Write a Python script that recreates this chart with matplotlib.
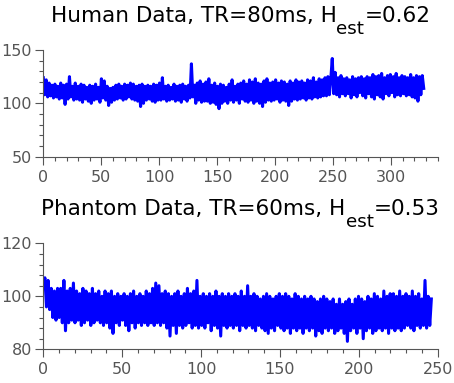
import numpy as np
import matplotlib
matplotlib.use("Agg")
import matplotlib.pyplot as plt
from matplotlib.ticker import MultipleLocator

plt.rcParams.update({'font.family': ['DejaVu Sans']})

# human BOLD series, ~8 samples per 10 s
human_dur = 328.0
human = [124, 108, 122, 106, 119, 107, 117, 105,
         118, 106, 116, 104, 119, 105, 117, 99,
         118, 104, 125, 106, 116, 103, 119, 104,
         116, 103, 118, 101, 117, 104, 115, 102,
         117, 100, 116, 103, 118, 104, 115, 101,
         123, 105, 121, 103, 116, 98, 114, 101,
         115, 103, 117, 104, 118, 105, 116, 103,
         118, 104, 117, 106, 119, 104, 118, 103,
         116, 102, 117, 97, 118, 100, 116, 103,
         117, 104, 116, 102, 118, 101, 117, 103,
         119, 103, 124, 104, 116, 102, 117, 103,
         115, 104, 118, 102, 116, 103, 117, 101,
         118, 104, 116, 102, 117, 105, 137, 106,
         117, 100, 119, 103, 121, 101, 118, 102,
         120, 102, 123, 100, 117, 101, 119, 99,
         116, 95, 118, 100, 117, 102, 115, 100,
         118, 103, 122, 101, 116, 103, 118, 100,
         119, 104, 121, 102, 118, 101, 122, 103,
         120, 100, 123, 102, 119, 100, 118, 97,
         121, 101, 123, 103, 119, 102, 120, 103,
         122, 104, 119, 101, 121, 103, 120, 102,
         118, 98, 121, 102, 119, 104, 122, 103,
         120, 104, 121, 105, 119, 103, 122, 105,
         121, 104, 124, 106, 120, 105, 123, 106,
         122, 107, 124, 107, 125, 108, 123, 142,
         109, 129, 108, 124, 106, 126, 109, 123,
         107, 124, 109, 122, 105, 125, 108, 123,
         106, 124, 110, 125, 107, 123, 105, 125,
         109, 124, 106, 127, 104, 125, 108, 126,
         106, 128, 104, 124, 109, 126, 107, 127,
         110, 125, 106, 128, 108, 124, 107, 126,
         109, 125, 107, 124, 108, 127, 106, 124,
         105, 126, 102, 125, 108, 126, 114]

# phantom series, ~10 samples per 10 s
phantom_dur = 246.0
phantom = [104, 107, 96, 106, 95, 103, 92, 102, 91, 103,
           92, 103, 90, 106, 87, 102, 90, 103, 91, 105,
           90, 102, 91, 101, 89, 103, 90, 102, 91, 101,
           89, 103, 90, 101, 91, 102, 90, 100, 89, 102,
           90, 101, 88, 102, 86, 100, 90, 101, 89, 100,
           91, 101, 89, 100, 87, 101, 90, 102, 88, 100,
           90, 101, 89, 100, 90, 102, 89, 101, 90, 103,
           89, 105, 90, 104, 89, 101, 90, 102, 88, 101,
           85, 100, 89, 101, 86, 102, 89, 100, 88, 101,
           89, 103, 90, 101, 88, 102, 89, 106, 88, 100,
           89, 101, 88, 100, 90, 101, 87, 100, 89, 102,
           88, 100, 85, 101, 89, 100, 88, 101, 89, 100,
           88, 101, 89, 100, 87, 102, 89, 100, 88, 104,
           89, 100, 88, 101, 87, 100, 89, 99, 88, 100,
           87, 101, 86, 100, 88, 99, 87, 100, 89, 101,
           88, 100, 87, 101, 88, 100, 86, 99, 88, 101,
           87, 100, 88, 99, 86, 100, 88, 99, 87, 100,
           88, 99, 85, 98, 87, 99, 86, 100, 88, 99,
           87, 98, 88, 99, 86, 97, 87, 99, 88, 97,
           86, 98, 83, 99, 87, 97, 88, 99, 86, 100,
           88, 99, 84, 98, 87, 100, 88, 99, 86, 101,
           87, 100, 88, 99, 87, 102, 88, 100, 86, 101,
           88, 101, 87, 100, 88, 102, 87, 100, 88, 101,
           89, 100, 88, 102, 87, 100, 89, 101, 88, 99,
           89, 106, 88, 100, 89, 99]

# title pieces: text before subscript, subscript, text after
titles = [('Human Data, TR=80ms, H', 'est', '=0.62'),
          ('Phantom Data, TR=60ms, H', 'est', '=0.53')]

grey = '#555555'
W, H = 454, 383

fig = plt.figure(figsize=(4.54, 3.83), dpi=100)
ax1 = fig.add_axes([0.0954, 0.591, 0.8686, 0.2785])
ax2 = fig.add_axes([0.0954, 0.088, 0.8686, 0.2767])

def style(ax, xlim, ylim, ymaj, ymin):
    ax.set_xlim(*xlim)
    ax.set_ylim(*ylim)
    ax.spines['top'].set_visible(False)
    ax.spines['right'].set_visible(False)
    for s in ('left', 'bottom'):
        ax.spines[s].set_color(grey)
        ax.spines[s].set_linewidth(0.8)
    ax.xaxis.set_major_locator(MultipleLocator(50))
    ax.xaxis.set_minor_locator(MultipleLocator(10))
    ax.yaxis.set_major_locator(MultipleLocator(ymaj))
    ax.yaxis.set_minor_locator(MultipleLocator(ymin))
    ax.tick_params(which='both', direction='out', colors=grey, labelsize=11.5)
    ax.tick_params(which='major', length=6, width=0.8)
    ax.tick_params(which='minor', length=3, width=0.8)
    ax.tick_params(axis='y', which='major', pad=2)

def title(ax, parts, fs=15.5, rise=28, drop=12):
    # MATLAB-like title: large subscript, centred over the axes
    r = fig.canvas.get_renderer()
    sizes = [fs, fs * 0.85, fs]
    txts = [fig.text(0, 0, s, fontsize=z, color='black') for s, z in zip(parts, sizes)]
    widths = [t.get_window_extent(r).width for t in txts]
    bb = ax.get_position()
    cx = (bb.x0 + bb.x1) / 2 * W
    base = bb.y1 * H + rise
    x = cx - sum(widths) / 2
    for i, t in enumerate(txts):
        y = base - drop if i == 1 else base
        t.set_position((x / W, y / H))
        t.set_va('baseline')
        x += widths[i]

t1 = np.linspace(0, human_dur, len(human))
ax1.plot(t1, human, color='#0000ff', lw=2.2)
style(ax1, (0, 340), (50, 150), 50, 10)
title(ax1, titles[0])

t2 = np.linspace(0, phantom_dur, len(phantom))
ax2.plot(t2, phantom, color='#0000ff', lw=2.2)
style(ax2, (0, 250), (80, 120), 20, 4)
title(ax2, titles[1])

fig.savefig('out.png', dpi=100)
